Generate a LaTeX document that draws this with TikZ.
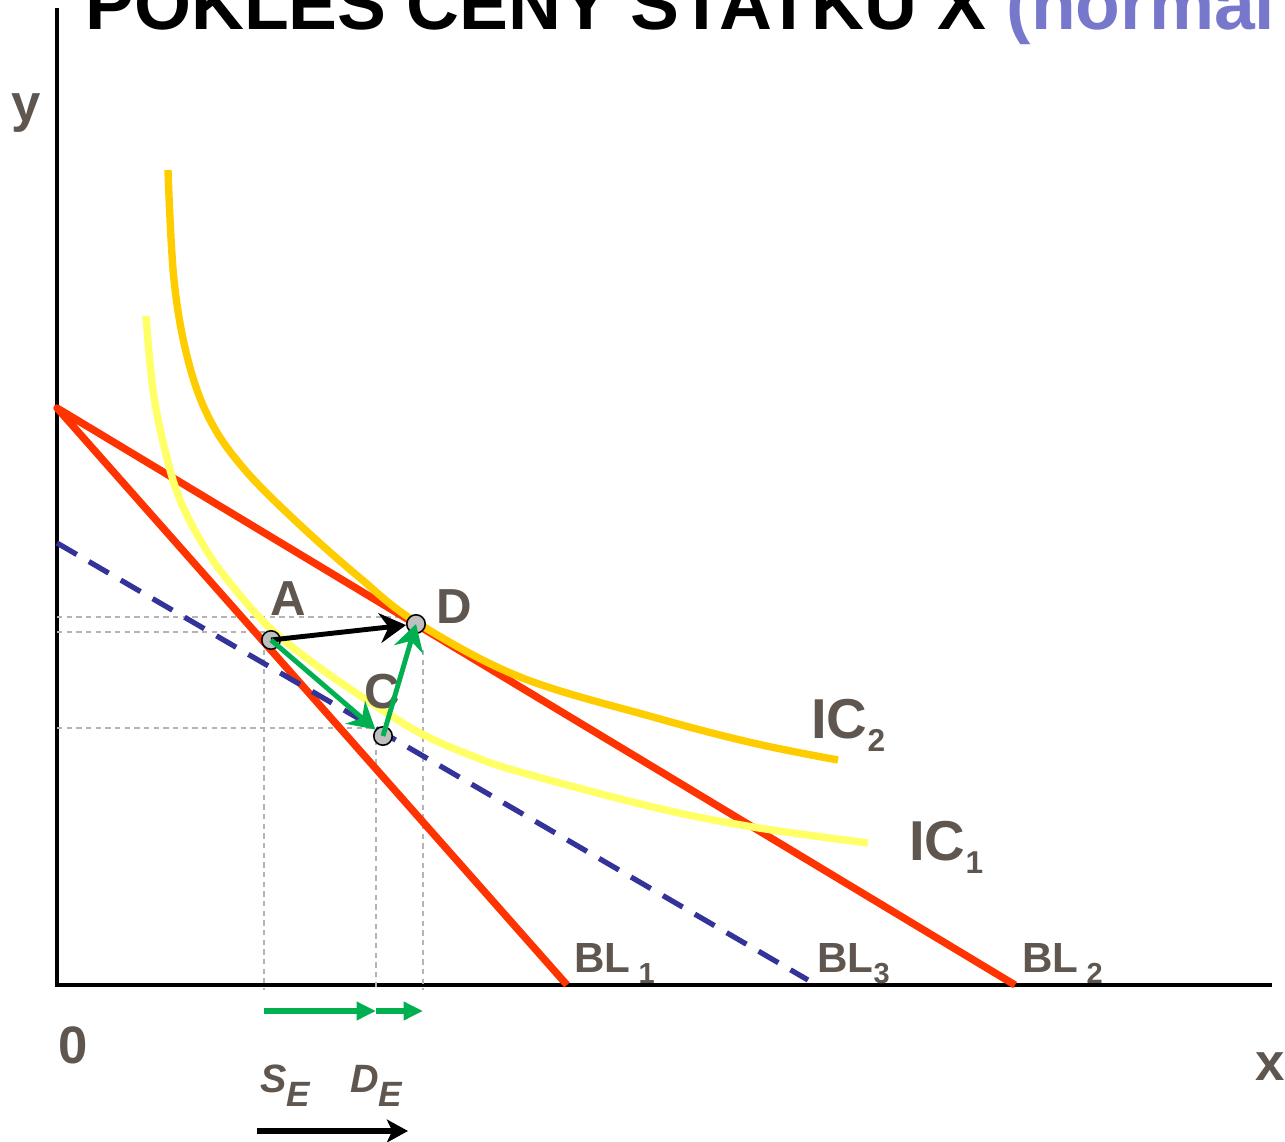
\documentclass[tikz,border=0pt]{standalone}
\usepackage{fontspec}
\setmainfont{Liberation Sans}
\usetikzlibrary{arrows.meta}
\definecolor{czRed}{HTML}{FF3300}
\definecolor{czGold}{HTML}{FFCC00}
\definecolor{czPale}{HTML}{FFFF66}
\definecolor{czNavy}{HTML}{333399}
\definecolor{czGreen}{HTML}{00B050}
\definecolor{czText}{HTML}{5E564F}
\definecolor{czLilac}{HTML}{7777CC}
\definecolor{czGuide}{HTML}{B4B4B4}
\definecolor{czDot}{HTML}{BFBFBF}
\newcommand\czsub[3]{\raisebox{-#2}{\fontsize{#1}{#1}\selectfont #3}}
\tikzset{
  cz axis/.style={draw=black, line width=2.5pt},
  cz budget/.style={draw=czRed, line width=4.2pt, line join=round},
  cz comp/.style={draw=czNavy, line width=3pt, dash pattern=on 13pt off 8pt},
  cz ic two/.style={draw=czGold, line width=4.2pt},
  cz ic one/.style={draw=czPale, line width=4.2pt},
  cz guide/.style={draw=czGuide, line width=0.8pt, dash pattern=on 3pt off 2.5pt},
  cz point/.style={circle, draw=black, fill=czDot, line width=0.9pt, minimum size=10.5pt, inner sep=0pt},
  cz move/.style={line width=2.8pt, -{Stealth[length=15pt,width=17pt,inset=5pt]}},
  cz effect/.style={draw=czGreen, line width=3pt, -{Triangle[length=11pt,width=10pt]}},
  cz total/.style={draw=black, line width=3.8pt, -{Stealth[length=12pt,width=13pt,inset=3pt]}},
  cz label/.style={font=\fontsize{28}{30}\selectfont\bfseries, text=czText, inner sep=0pt, anchor=base},
  cz axis label/.style={font=\fontsize{30}{32}\selectfont\bfseries, text=czText, inner sep=0pt, anchor=base},
  cz ic label/.style={font=\fontsize{32}{34}\selectfont\bfseries, text=czText, inner sep=0pt, anchor=base west},
  cz bl label/.style={font=\fontsize{24}{26}\selectfont\bfseries, text=czText, inner sep=0pt, anchor=base west},
  cz eff label/.style={font=\fontsize{22.5}{24}\selectfont\bfseries\itshape, text=czText, inner sep=0pt, anchor=base west},
  cz title/.style={font=\fontsize{41.7}{44}\selectfont\bfseries, text=black, inner sep=0pt, anchor=base west},
}
\begin{document}
\begin{tikzpicture}[x=0.02cm, y=-0.02cm]
  \useasboundingbox (0,0) rectangle (1285,1142);
  \clip (0,0) rectangle (1285,1142);
  \node[cz title] (title) at (85,30) {POKLES CENY STATKU X \textcolor{czLilac}{(normal}};
  % axes
  \coordinate (O) at (57,985);
  \coordinate (ytop) at (57,8);
  \coordinate (xend) at (1272,985);
  \draw[cz axis] (ytop) -- (O) -- (xend);
  \node[cz axis label] (ylab) at (26,122) {y};
  \node[cz axis label] (olab) at (73,1063) {0};
  \node[cz axis label] (xlab) at (1270,1080) {x};
  % guide lines
  \draw[cz guide] (57,617) -- (410,617);
  \draw[cz guide] (57,632) -- (265,632);
  \draw[cz guide] (57,728) -- (378,728);
  \draw[cz guide] (264,640) -- (264,990);
  \draw[cz guide] (376,740) -- (376,990);
  \draw[cz guide] (423,650) -- (423,990);
  % budget lines
  \coordinate (bltop) at (57,408);
  \coordinate (bl1end) at (567,985);
  \coordinate (bl2end) at (1015,985);
  \coordinate (bl3top) at (57,543);
  \coordinate (bl3end) at (808,980);
  \draw[cz budget] (bl1end) -- (bltop) -- (bl2end);
  \draw[cz comp] (bl3top) -- (bl3end);
  % indifference curves
  \draw[cz ic one] plot[smooth, tension=0.6] coordinates {(146,316) (153,390) (165,450) (180,500) (205,548) (230,583) (270,628) (320,668) (370,702) (420,733) (470,755) (520,772) (653,807) (753,827) (868,843)};
  \draw[cz ic two] plot[smooth, tension=0.6] coordinates {(168,170) (174,280) (188,360) (210,420) (245,470) (300,525) (360,578) (416,622) (520,677) (653,717) (753,743) (838,760)};
  % labels
  \node[cz ic label] (ic2) at (811,738) {IC\czsub{18pt}{7.4pt}{2}};
  \node[cz ic label] (ic1) at (909,860) {IC\czsub{18pt}{7.4pt}{1}};
  \node[cz bl label] (bl1) at (574,972) {BL\czsub{16.5pt}{6.8pt}{\ 1}};
  \node[cz bl label] (bl3) at (817,972) {BL\czsub{16.5pt}{6.8pt}{3}};
  \node[cz bl label] (bl2) at (1022,972) {BL\czsub{16.5pt}{6.8pt}{\ 2}};
  \node[cz label] (lA) at (288,615) {A};
  \node[cz label] (lD) at (454,623) {D};
  \node[cz label] (lC) at (382,708) {C};
  % optima
  \node[cz point] (A) at (271,640) {};
  \node[cz point] (D) at (416,624) {};
  \node[cz point] (C) at (383,736) {};
  \draw[cz move, draw=black] (A.center) -- (D);
  \draw[cz move, draw=czGreen] (A.center) -- (C);
  \draw[cz move, draw=czGreen] (C.center) -- (D.center);
  % effects on the x axis
  \coordinate (se0) at (264,1011);
  \coordinate (se1) at (376,1011);
  \coordinate (de1) at (423,1011);
  \draw[cz effect] (se0) -- (se1);
  \draw[cz effect] (se1) -- (de1);
  \node[cz eff label] (sE) at (260,1092) {S\czsub{20pt}{8pt}{E}};
  \node[cz eff label] (dE) at (350,1092) {D\czsub{20pt}{8pt}{E}};
  \coordinate (tot0) at (257,1131);
  \coordinate (tot1) at (408,1131);
  \draw[cz total] (tot0) -- (tot1);
\end{tikzpicture}
\end{document}
